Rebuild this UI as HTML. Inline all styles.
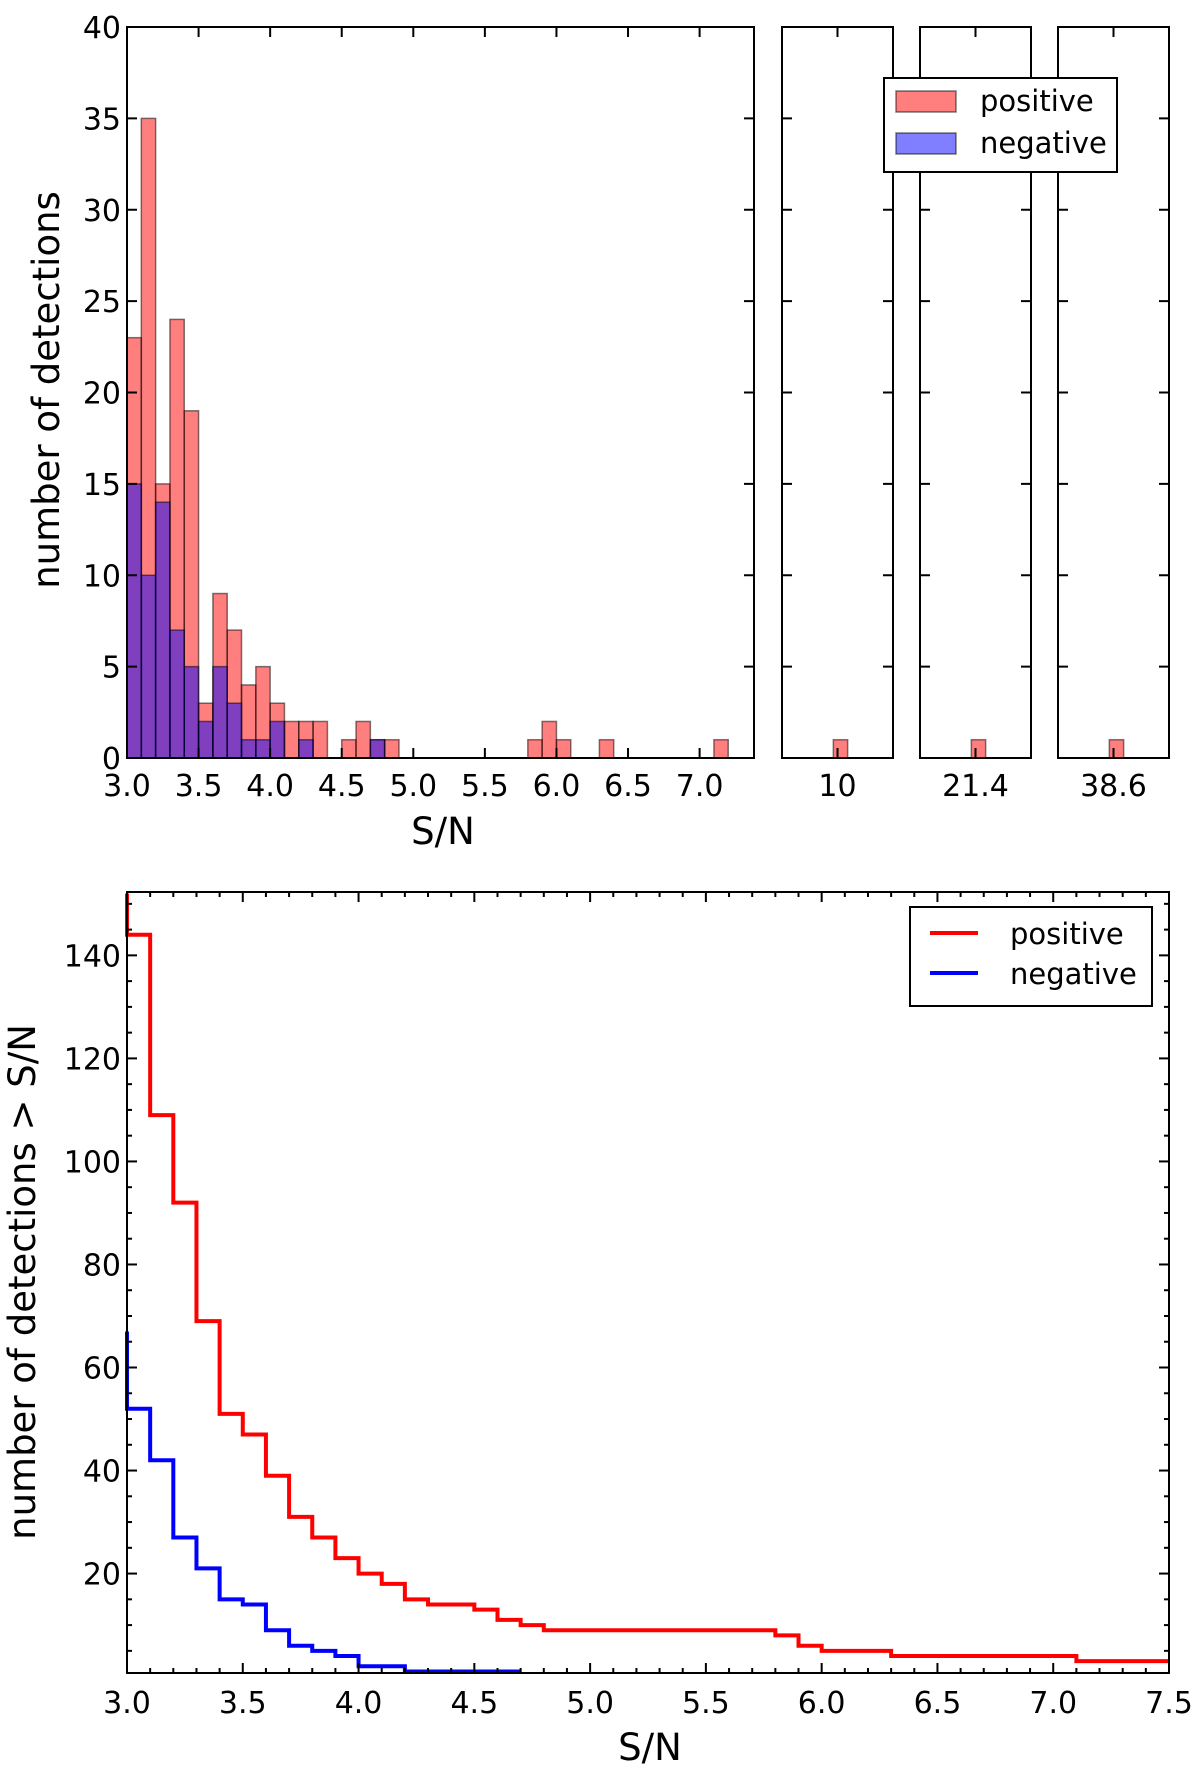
<!DOCTYPE html>
<html><head><meta charset="utf-8"><style>
html,body{margin:0;padding:0;background:#fff;}
svg{display:block;font-family:"DejaVu Sans","Liberation Sans",sans-serif;}
</style></head><body>
<svg id="chart" width="1200" height="1769" viewBox="0 0 1200 1769" xmlns="http://www.w3.org/2000/svg"></svg>
<script>
// ---- top histogram data (bins of width 0.1 starting at 3.0) ----
const binStarts = [3.0,3.1,3.2,3.3,3.4,3.5,3.6,3.7,3.8,3.9,4.0,4.1,4.2,4.3,4.5,4.6,4.7,4.8,5.8,5.9,6.0,6.3,7.1];
const posCounts = [23,35,15,24,19,3,9,7,4,5,3,2,2,2,1,2,1,1,1,2,1,1,1];
const negBinStarts = [3.0,3.1,3.2,3.3,3.4,3.5,3.6,3.7,3.8,3.9,4.0,4.2,4.7];
const negCounts = [15,10,14,7,5,2,5,3,1,1,2,1,1];
const topXTicks = [3.0,3.5,4.0,4.5,5.0,5.5,6.0,6.5,7.0];
const topYTicks = [0,5,10,15,20,25,30,35,40];
const breakLabels = ["10","21.4","38.6"];
const breakCounts = [1,1,1];
// ---- bottom cumulative data ----
const cumEdges = [3.0,3.1,3.2,3.3,3.4,3.5,3.6,3.7,3.8,3.9,4.0,4.1,4.2,4.3,4.4,4.5,4.6,4.7,4.8,5.8,5.9,6.0,6.3,7.1,7.5];
const cumPos = [144,109,92,69,51,47,39,31,27,23,20,18,15,14,14,13,11,10,9,8,6,5,4,3];
const cumPosStart = 152;
const negEdges = [3.0,3.1,3.2,3.3,3.4,3.5,3.6,3.7,3.8,3.9,4.0,4.1,4.2,4.3,4.4,4.5,4.6,4.7];
const cumNeg = [52,42,27,21,15,14,9,6,5,4,2,2,1,1,1,1,1];
const cumNegStart = 67;
const botXTicks = [3.0,3.5,4.0,4.5,5.0,5.5,6.0,6.5,7.0,7.5];
const botYTicks = [20,40,60,80,100,120,140];

const svg = document.getElementById('chart');
const NS = 'http://www.w3.org/2000/svg';
const FS = 30, LFS = 37;
function mk(tag, attrs, parent){const e=document.createElementNS(NS,tag);for(const k in attrs)e.setAttribute(k,attrs[k]);(parent||svg).appendChild(e);return e;}
function txt(s, attrs){const e=mk('text',attrs);e.textContent=s;return e;}

// ---------- TOP PANEL ----------
const T = {l:127,r:754,t:27,b:758,x0:3.0,x1:7.38,y0:0,y1:40};
const tx = v => T.l + (v-T.x0)/(T.x1-T.x0)*(T.r-T.l);
const ty = v => T.b - (v-T.y0)/(T.y1-T.y0)*(T.b-T.t);
const gTop = mk('g',{});


binStarts.forEach((s,i)=>{
  const r = mk('rect',{x:tx(s),y:ty(posCounts[i]),width:tx(s+0.1)-tx(s),height:ty(0)-ty(posCounts[i]),fill:'#ff0000','fill-opacity':0.5,stroke:'#000','stroke-opacity':0.5,'stroke-width':1.5},gTop);
  
  
});
negBinStarts.forEach((s,i)=>{
  const r = mk('rect',{x:tx(s),y:ty(negCounts[i]),width:tx(s+0.1)-tx(s),height:ty(0)-ty(negCounts[i]),fill:'#0000ff','fill-opacity':0.5,stroke:'#000','stroke-opacity':0.5,'stroke-width':1.5},gTop);
  
  
});
const topFrame = mk('rect',{x:T.l,y:T.t,width:T.r-T.l,height:T.b-T.t,fill:'none',stroke:'#000','stroke-width':2});


topXTicks.forEach(v=>{
  const x=tx(v);
  mk('line',{x1:x,x2:x,y1:T.b,y2:T.b-10,stroke:'#000','stroke-width':2});
  mk('line',{x1:x,x2:x,y1:T.t,y2:T.t+10,stroke:'#000','stroke-width':2});
  const t=txt(v.toFixed(1),{x:x,y:T.b+38,'font-size':FS,'text-anchor':'middle'});
  
  
});
topYTicks.forEach(v=>{
  const y=ty(v);
  mk('line',{x1:T.l,x2:T.l+10,y1:y,y2:y,stroke:'#000','stroke-width':2});
  mk('line',{x1:T.r,x2:T.r-10,y1:y,y2:y,stroke:'#000','stroke-width':2});
  const t=txt(String(v),{x:T.l-6,y:y+11,'font-size':FS,'text-anchor':'end'});
  
  
});
// broken panels
const panels = [[782,893],[920,1031],[1058,1169]];
panels.forEach((p,i)=>{
  const f=mk('rect',{x:p[0],y:T.t,width:p[1]-p[0],height:T.b-T.t,fill:'none',stroke:'#000','stroke-width':2});
  
  
  const c=(p[0]+p[1])/2;
  const w=tx(3.1)-tx(3.0);
  const b=mk('rect',{x:c-w/2+3,y:ty(breakCounts[i]),width:w,height:ty(0)-ty(breakCounts[i]),fill:'#ff0000','fill-opacity':0.5,stroke:'#000','stroke-opacity':0.5,'stroke-width':1.5});
  
  
  mk('line',{x1:c,x2:c,y1:T.b,y2:T.b-10,stroke:'#000','stroke-width':2});
  mk('line',{x1:c,x2:c,y1:T.t,y2:T.t+10,stroke:'#000','stroke-width':2});
  topYTicks.forEach(v=>{const y=ty(v);
    mk('line',{x1:p[0],x2:p[0]+10,y1:y,y2:y,stroke:'#000','stroke-width':2});
    mk('line',{x1:p[1],x2:p[1]-10,y1:y,y2:y,stroke:'#000','stroke-width':2});});
  const t=txt(breakLabels[i],{x:c,y:T.b+38,'font-size':FS,'text-anchor':'middle'});
  
  
});
const tl1=txt('S/N',{x:443,y:844,'font-size':LFS,'text-anchor':'middle'});


const yl1=txt('number of detections',{x:0,y:0,'font-size':LFS,'text-anchor':'middle',transform:'translate(59,390) rotate(-90)'});


// legend top
const lg1=mk('g',{});


mk('rect',{x:884,y:78,width:233,height:94,fill:'#fff',stroke:'#000','stroke-width':2},lg1);
mk('rect',{x:896,y:91,width:60,height:21,fill:'#ff0000','fill-opacity':0.5,stroke:'#000','stroke-opacity':0.5,'stroke-width':1.5},lg1);
mk('rect',{x:896,y:133,width:60,height:21,fill:'#0000ff','fill-opacity':0.5,stroke:'#000','stroke-opacity':0.5,'stroke-width':1.5},lg1);
const le1=txt('positive',{x:980,y:111,'font-size':29});lg1.appendChild(le1);


const le2=txt('negative',{x:980,y:153,'font-size':29});lg1.appendChild(le2);



// ---------- BOTTOM PANEL ----------
const B = {l:127,r:1169,t:892,b:1673,x0:3.0,x1:7.5,y0:0.7,y1:152.3};
const bx = v => B.l + (v-B.x0)/(B.x1-B.x0)*(B.r-B.l);
const by = v => B.b - (v-B.y0)/(B.y1-B.y0)*(B.b-B.t);
function stepPath(edges, vals, start){
  let d='M'+bx(edges[0])+','+by(start);
  vals.forEach((v,i)=>{d+=' L'+bx(edges[i])+','+by(v)+' L'+bx(edges[i+1])+','+by(v);});
  return d;
}
const pp=mk('path',{d:stepPath(cumEdges,cumPos,cumPosStart),fill:'none',stroke:'#ff0000','stroke-width':4});


const np=mk('path',{d:stepPath(negEdges,cumNeg,cumNegStart),fill:'none',stroke:'#0000ff','stroke-width':4});


const botFrame=mk('rect',{x:B.l,y:B.t,width:B.r-B.l,height:B.b-B.t,fill:'none',stroke:'#000','stroke-width':2});


for(let k=0;k<=45;k++){const v=3+k*0.1,x=bx(v),L=(k%5===0)?10:5;
  mk('line',{x1:x,x2:x,y1:B.b,y2:B.b-L,stroke:'#000','stroke-width':2});
  mk('line',{x1:x,x2:x,y1:B.t,y2:B.t+L,stroke:'#000','stroke-width':2});}
for(let v=5;v<=150;v+=5){const y=by(v),L=(v%20===0)?10:5;
  mk('line',{x1:B.l,x2:B.l+L,y1:y,y2:y,stroke:'#000','stroke-width':2});
  mk('line',{x1:B.r,x2:B.r-L,y1:y,y2:y,stroke:'#000','stroke-width':2});}
botXTicks.forEach(v=>{const t=txt(v.toFixed(1),{x:bx(v),y:B.b+40,'font-size':FS,'text-anchor':'middle'});
  
  });
botYTicks.forEach(v=>{const t=txt(String(v),{x:B.l-6,y:by(v)+11,'font-size':FS,'text-anchor':'end'});
  
  });
const tl2=txt('S/N',{x:650,y:1760,'font-size':LFS,'text-anchor':'middle'});


const yl2=txt('number of detections > S/N',{x:0,y:0,'font-size':LFS,'text-anchor':'middle',transform:'translate(35,1282) rotate(-90)'});


const lg2=mk('g',{});


mk('rect',{x:910,y:907,width:242,height:99,fill:'#fff',stroke:'#000','stroke-width':2},lg2);
mk('line',{x1:930,x2:978,y1:933,y2:933,stroke:'#ff0000','stroke-width':4},lg2);
mk('line',{x1:930,x2:978,y1:973,y2:973,stroke:'#0000ff','stroke-width':4},lg2);
const le3=txt('positive',{x:1010,y:944,'font-size':29});lg2.appendChild(le3);


const le4=txt('negative',{x:1010,y:984,'font-size':29});lg2.appendChild(le4);


</script>
</body></html>
